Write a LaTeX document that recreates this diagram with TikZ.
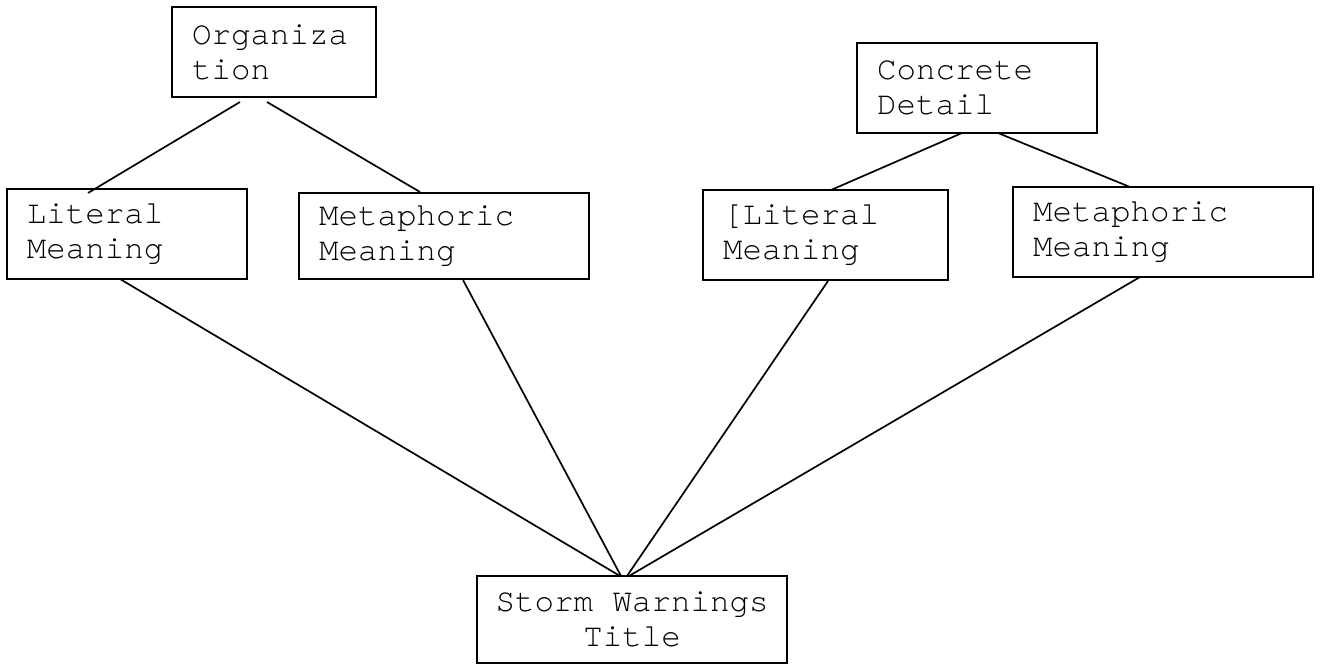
\documentclass[tikz,border=0pt]{standalone}
\usepackage{fontspec}
\setmainfont{TeX Gyre Cursor}
\usetikzlibrary{calc}
\begin{document}
\begin{tikzpicture}[x=1pt,y=-1pt,
  every node/.style={font=\fontsize{32.5}{35}\selectfont},
  box/.style={draw, line width=1.8pt, anchor=north west, inner xsep=20pt, inner ysep=0pt, outer sep=0pt, align=left},
  link/.style={line width=1.7pt}]
\useasboundingbox (0,0) rectangle (1320,666);
\node[box, text width=164pt, minimum height=90pt] (org) at (172,7) {Organiza\\tion};
\node[box, text width=200pt, minimum height=90pt] (conc) at (857,43) {Concrete\\Detail};
\node[box, text width=200pt, minimum height=90pt] (litL) at (7,189) {Literal\\Meaning};
\node[box, text width=250pt, minimum height=86pt] (metL) at (299,193) {Metaphoric\\Meaning};
\node[box, text width=205pt, minimum height=90pt] (litR) at (703,190) {[Literal\\Meaning};
\node[box, text width=260pt, minimum height=90pt] (metR) at (1013,187) {Metaphoric\\Meaning};
\node[box, inner xsep=5pt, text width=300pt, minimum height=87pt, align=center] (storm) at (477,576) {Storm\hspace{0.6em}Warnings\\Title};
\draw[link] ($(org.south west)+(68,5)$) -- ($(litL.north west)+(81,4)$);
\draw[link] ($(org.south west)+(95,5)$) -- ($(metL.north west)+(121,-1)$);
\draw[link] ($(conc.south west)+(105,0)$) -- ($(litR.north west)+(128,0)$);
\draw[link] ($(conc.south west)+(141,0)$) -- ($(metR.north west)+(117,0)$);
\draw[link] ($(litL.south west)+(113,0)$) -- ($(storm.north west)+(143,0)$);
\draw[link] ($(metL.south west)+(164,1)$) -- ($(storm.north west)+(144,0)$);
\draw[link] ($(litR.south west)+(125,1)$) -- ($(storm.north west)+(150,0)$);
\draw[link] ($(metR.south west)+(127,0)$) -- ($(storm.north west)+(152,0)$);
\end{tikzpicture}
\end{document}
